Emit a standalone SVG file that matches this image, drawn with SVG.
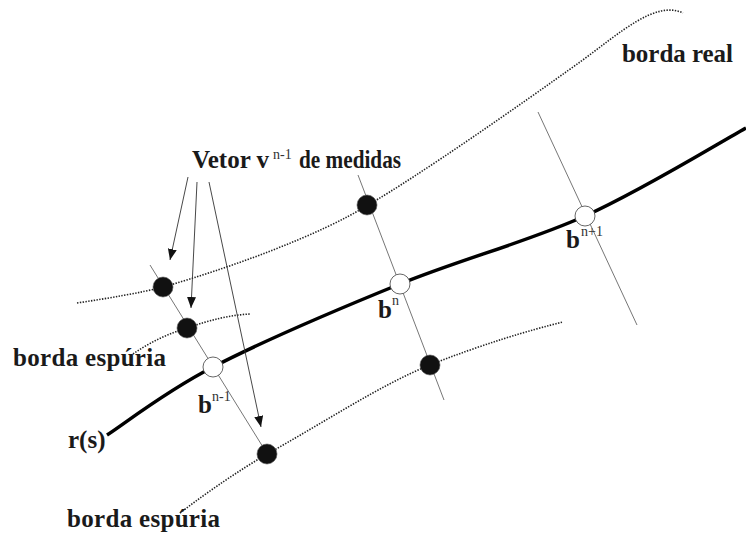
<svg xmlns="http://www.w3.org/2000/svg" width="746" height="538" viewBox="0 0 746 538">
<style>
  .lbl { font-family: "Liberation Serif", "Times New Roman", serif; font-weight: bold; font-size: 25px; fill: #1a1a1a; }
  .sup { font-family: "Liberation Serif", "Times New Roman", serif; font-weight: normal; font-size: 14px; fill: #333; }
  .thin { stroke: #666; stroke-width: 0.9; fill: none; }
  .dot { stroke: #222; stroke-width: 1.6; stroke-dasharray: 1.4 1.4; fill: none; }
  .main { stroke: #000; stroke-width: 3.5; fill: none; stroke-linecap: butt; }
  .arrow { stroke: #333; stroke-width: 0.9; fill: none; marker-end: url(#ah); }
  .fill { fill: #111; stroke: #555; stroke-width: 0.6; }
  .open { fill: #fff; stroke: #555; stroke-width: 0.9; }
</style>
<defs>
  <marker id="ah" markerWidth="12" markerHeight="10" refX="11" refY="4.5" orient="auto" markerUnits="userSpaceOnUse">
    <path d="M0,0 L11,4.5 L0,9 Z" fill="#111"/>
  </marker>
</defs>
<rect width="746" height="538" fill="#fff"/>
<g id="connectors">
  <path class="thin" d="M150,265 L271,460"/>
  <path class="thin" d="M358,175 L444,400"/>
  <path class="thin" d="M538,112 L637,325"/>
  <path class="dot" d="M77,303 C110,298 140,293 163,287 C230,268 320,235 368,205 C420,175 520,105 580,62 C620,33 655,0 683,13"/>
  <path class="dot" d="M133,354 C150,342 170,333 187,328 C210,320 230,315 250,314"/>
  <path class="dot" d="M180,513 C210,490 240,470 267,454 C320,425 380,385 430,365 C480,345 530,330 563,322"/>
  <path class="main" d="M107,435 C124.7,423.7 164.2,392.2 213,367 C261.8,341.8 338,309.2 400,284 C462,258.8 527.3,242 585,216 C642.7,190 719.2,142.7 746,128"/>
  <path class="arrow" d="M188,177 L170,260"/>
  <path class="arrow" d="M197,182 L191,308"/>
  <path class="arrow" d="M209,182 L261,427"/>
</g>
<g id="m1"><circle class="fill" cx="163" cy="287" r="10"/></g>
<g id="m2"><circle class="fill" cx="187" cy="328" r="10"/></g>
<g id="m3"><circle class="fill" cx="367" cy="205" r="10"/></g>
<g id="m4"><circle class="fill" cx="430" cy="365" r="10"/></g>
<g id="m5"><circle class="fill" cx="267" cy="454" r="10"/></g>
<g id="bn1"><circle class="open" cx="213" cy="367" r="10"/>
  <text class="lbl" x="198" y="413">b</text><text class="sup" x="212" y="401">n-1</text></g>
<g id="bn"><circle class="open" cx="400" cy="284" r="10"/>
  <text class="lbl" x="378" y="318">b</text><text class="sup" x="392" y="305">n</text></g>
<g id="bnp1"><circle class="open" cx="585" cy="216" r="10"/>
  <text class="lbl" x="566" y="248">b</text><text class="sup" x="581" y="236">n+1</text></g>
<g id="label-vetor"><text class="lbl" x="192" y="168">Vetor v<tspan class="sup" x="273" y="159">n-1</tspan><tspan x="299" y="168" textLength="102" lengthAdjust="spacingAndGlyphs">de medidas</tspan></text></g>
<g id="label-real"><text class="lbl" x="622" y="62" textLength="111">borda real</text></g>
<g id="label-esp1"><text class="lbl" x="13" y="366" textLength="153">borda espúria</text></g>
<g id="label-esp2"><text class="lbl" x="67" y="527" textLength="153">borda espúria</text></g>
<g id="label-rs"><text class="lbl" x="68" y="448">r(s)</text></g>
</svg>
